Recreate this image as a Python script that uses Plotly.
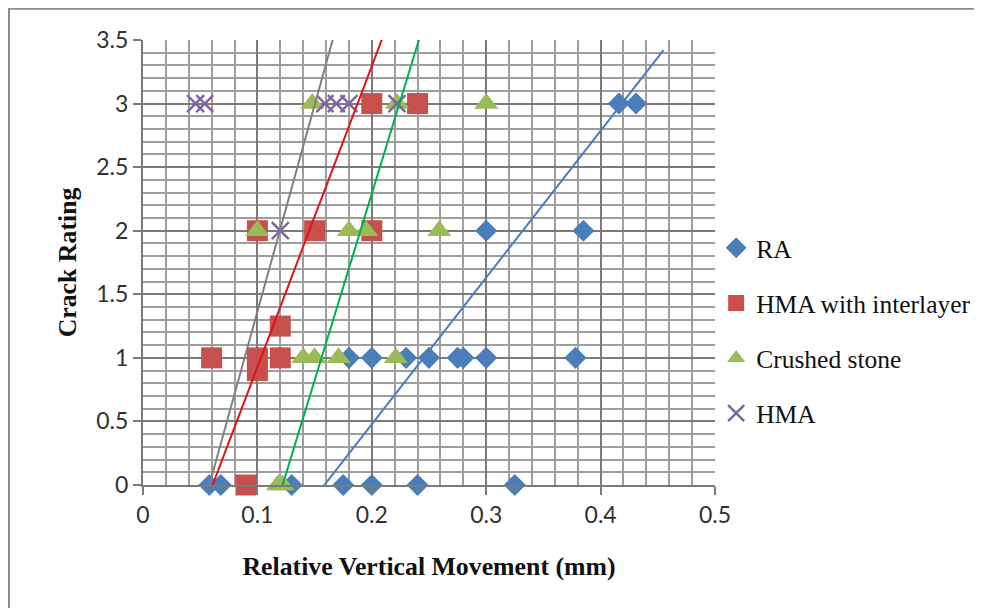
import plotly.graph_objects as go

# ---- data ----
ra_x = [0.058, 0.068, 0.130, 0.175, 0.200, 0.240, 0.325,
        0.180, 0.200, 0.230, 0.250, 0.275, 0.280, 0.300, 0.378,
        0.300, 0.385,
        0.416, 0.431]
ra_y = [0, 0, 0, 0, 0, 0, 0,
        1, 1, 1, 1, 1, 1, 1, 1,
        2, 2,
        3, 3]

hi_x = [0.090, 0.060, 0.100, 0.120, 0.100, 0.120, 0.100, 0.150, 0.200, 0.200, 0.240]
hi_y = [0, 1, 1, 1, 0.9, 1.25, 2, 2, 2, 3, 3]

cs_x = [0.118, 0.122, 0.140, 0.150, 0.171, 0.221, 0.100, 0.180, 0.195, 0.259, 0.148, 0.222, 0.300]
cs_y = [0, 0, 1, 1, 1, 1, 2, 2, 2, 2, 3, 3, 3]

hma_x = [0.120, 0.046, 0.054, 0.159, 0.169, 0.180, 0.222]
hma_y = [2, 3, 3, 3, 3, 3, 3]

# trend lines: (x at start, x at end), (y at start, y at end)
tr_ra_x, tr_ra_y = [0.156, 0.455], [-0.03, 3.42]
tr_hi_x, tr_hi_y = [0.060, 0.211], [-0.02, 3.555]
tr_cs_x, tr_cs_y = [0.121, 0.242], [-0.03, 3.525]
tr_hma_x, tr_hma_y = [0.058, 0.167], [0.0, 3.54]

x_ticks = [0, 0.1, 0.2, 0.3, 0.4, 0.5]
x_tick_labels = ["0", "0.1", "0.2", "0.3", "0.4", "0.5"]
y_ticks = [0, 0.5, 1, 1.5, 2, 2.5, 3, 3.5]
y_tick_labels = ["0", "0.5", "1", "1.5", "2", "2.5", "3", "3.5"]

C_RA = "#4a7ebb"
C_HI = "#c8504c"
C_CS = "#9bbb59"
C_HMA = "#8064a2"

fig = go.Figure()

fig.add_trace(go.Scatter(x=ra_x, y=ra_y, mode="markers", name="RA",
                         legendgroup="a", cliponaxis=False,
                         marker=dict(symbol="diamond", size=17, color=C_RA)))
fig.add_trace(go.Scatter(x=hi_x, y=hi_y, mode="markers", name="HMA with interlayer",
                         legendgroup="b", cliponaxis=False,
                         marker=dict(symbol="square", size=21, color=C_HI)))
fig.add_trace(go.Scatter(x=cs_x, y=cs_y, mode="markers", name="Crushed stone",
                         legendgroup="c", cliponaxis=False,
                         marker=dict(symbol="triangle-up", size=21, color=C_CS)))
fig.add_trace(go.Scatter(x=hma_x, y=hma_y, mode="markers", name="HMA",
                         legendgroup="d", cliponaxis=False,
                         marker=dict(symbol="x-thin-open", size=17, color=C_HMA,
                                     line=dict(width=2.5, color=C_HMA))))

for tx, ty, col in [(tr_hma_x, tr_hma_y, "#808080"),
                    (tr_hi_x, tr_hi_y, "#e0141a"),
                    (tr_cs_x, tr_cs_y, "#00b050"),
                    (tr_ra_x, tr_ra_y, "#4a7ebb")]:
    fig.add_trace(go.Scatter(x=tx, y=ty, mode="lines", showlegend=False,
                             cliponaxis=False, hoverinfo="skip",
                             line=dict(color=col, width=2)))

tick_font = dict(family="Lato, Liberation Sans, sans-serif", size=23, color="#303030")
title_font = dict(family="Liberation Serif, Times New Roman, serif", size=25.8, color="#111111")

fig.update_xaxes(range=[0, 0.5], tickvals=x_ticks, ticktext=x_tick_labels,
                 showgrid=True, gridcolor="#7a7a7a", gridwidth=2,
                 minor=dict(dtick=0.02, showgrid=True, gridcolor="#9e9e9e", gridwidth=1.5),
                 showline=True, linecolor="#7a7a7a", linewidth=2,
                 ticks="outside", ticklen=8, tickcolor="#7a7a7a", tickwidth=2,
                 zeroline=False, tickfont=tick_font,
                 title=dict(text="<b>Relative Vertical Movement (mm)</b>", font=title_font,
                            standoff=30))
fig.update_yaxes(range=[0, 3.5], tickvals=y_ticks, ticktext=y_tick_labels,
                 showgrid=True, gridcolor="#7a7a7a", gridwidth=2,
                 minor=dict(dtick=0.1, showgrid=True, gridcolor="#9e9e9e", gridwidth=1.5),
                 showline=True, linecolor="#7a7a7a", linewidth=2,
                 ticks="outside", ticklen=8, tickcolor="#7a7a7a", tickwidth=2,
                 zeroline=False, tickfont=tick_font,
                 title=dict(text="<b>Crack Rating</b>", font=title_font, standoff=12))

# outer frame (left and top edges visible in the reference)
frame = dict(color="#8a8a8a", width=2)
fig.add_shape(type="line", xref="paper", yref="paper", x0=-0.2343, x1=-0.2343,
              y0=1.08, y1=-0.35, line=frame)
fig.add_shape(type="line", xref="paper", yref="paper", x0=-0.2343, x1=1.6,
              y0=1.0705, y1=1.0705, line=frame)

# the page body adds an 8px offset, so the figure is sized/placed to compensate
fig.update_layout(
    width=974, height=600,
    margin=dict(l=135, r=267, t=32, b=123, autoexpand=False),
    paper_bgcolor="white", plot_bgcolor="white",
    showlegend=True,
    legend=dict(x=1.002, xanchor="left", y=0.585, yanchor="top",
                font=dict(family="Liberation Serif, Times New Roman, serif", size=25.5,
                          color="#111111"),
                tracegroupgap=19, bgcolor="rgba(0,0,0,0)", itemwidth=30),
)

fig.write_html("out.html")
